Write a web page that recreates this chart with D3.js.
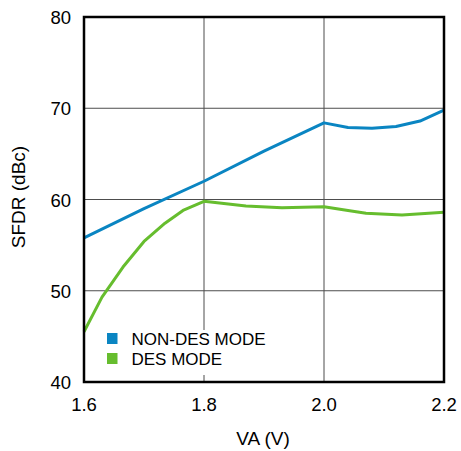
<!DOCTYPE html>
<html>
<head>
<meta charset="utf-8">
<script src="https://cdn.jsdelivr.net/npm/d3@7"></script>
<style>
  body { margin: 0; background: #fff; }
  text { font-family: "Liberation Sans", Arial, sans-serif; fill: #000; }
</style>
</head>
<body>
<div id="chart"></div>
<script>
// SFDR vs VA
var w = 461, h = 451;

var xTicks = [1.6, 1.8, 2.0, 2.2];
var yTicks = [40, 50, 60, 70, 80];

var nonDesVA   = [1.6, 1.7, 1.8, 1.9, 2.0, 2.04, 2.08, 2.12, 2.16, 2.2];
var nonDesSFDR = [55.8, 59.0, 62.0, 65.3, 68.4, 67.9, 67.8, 68.0, 68.6, 69.8];

var desVA   = [1.6, 1.63, 1.665, 1.7, 1.735, 1.765, 1.8, 1.87, 1.93, 2.0, 2.04, 2.07, 2.13, 2.2];
var desSFDR = [45.5, 49.3, 52.6, 55.4, 57.4, 58.8, 59.8, 59.3, 59.1, 59.2, 58.8, 58.5, 58.3, 58.6];

var seriesNames = ["NON-DES MODE", "DES MODE"];
var colors = ["#0a85c2", "#66bd2e"];

var pL = 84, pR = 444, pT = 17, pB = 382;

var x = d3.scaleLinear().domain([1.6, 2.2]).range([pL, pR]);
var y = d3.scaleLinear().domain([40, 80]).range([pB, pT]);

var svg = d3.select("#chart").append("svg")
  .attr("width", w).attr("height", h);

// grid
svg.selectAll("line.vgrid").data(xTicks.slice(1, -1)).enter().append("line")
  .attr("x1", function(d) { return x(d); }).attr("x2", function(d) { return x(d); })
  .attr("y1", pT).attr("y2", pB)
  .attr("stroke", "#4d4d4d").attr("stroke-width", 1);
svg.selectAll("line.hgrid").data(yTicks.slice(1, -1)).enter().append("line")
  .attr("y1", function(d) { return y(d); }).attr("y2", function(d) { return y(d); })
  .attr("x1", pL).attr("x2", pR)
  .attr("stroke", "#4d4d4d").attr("stroke-width", 1);

// lines
var line = d3.line()
  .x(function(d) { return x(d[0]); })
  .y(function(d) { return y(d[1]); });

var series = [d3.zip(nonDesVA, nonDesSFDR), d3.zip(desVA, desSFDR)];

svg.selectAll("path.series").data(series).enter().append("path")
  .attr("d", line)
  .attr("fill", "none")
  .attr("stroke", function(d, i) { return colors[i]; })
  .attr("stroke-width", 3)
  .attr("stroke-linejoin", "round");

// legend (white box hides grid)
var lg = svg.append("g").attr("transform", "translate(100,330)");
lg.append("rect").attr("width", 178).attr("height", 45).attr("fill", "#fff");
seriesNames.forEach(function(name, i) {
  lg.append("rect").attr("x", 7).attr("y", 3 + i * 20).attr("width", 10.5).attr("height", 11)
    .attr("fill", colors[i]);
  lg.append("text").attr("x", 31.5).attr("y", 15 + i * 19.5)
    .attr("font-size", 17).text(name);
});

// frame
svg.append("rect").attr("x", pL).attr("y", pT)
  .attr("width", pR - pL).attr("height", pB - pT)
  .attr("fill", "none").attr("stroke", "#000").attr("stroke-width", 2.5);

// tick labels
svg.selectAll("text.xt").data(xTicks).enter().append("text")
  .attr("x", function(d) { return x(d); }).attr("y", 411)
  .attr("text-anchor", "middle").attr("font-size", 18.5)
  .text(function(d) { return d.toFixed(1); });
svg.selectAll("text.yt").data(yTicks).enter().append("text")
  .attr("x", 71).attr("y", function(d) { return y(d) + 7; })
  .attr("text-anchor", "end").attr("font-size", 18.5)
  .text(function(d) { return d; });

// axis titles
svg.append("text").attr("x", 263).attr("y", 445)
  .attr("text-anchor", "middle").attr("font-size", 19).text("VA (V)");
svg.append("text").attr("transform", "translate(25,197) rotate(-90)")
  .attr("text-anchor", "middle").attr("font-size", 19).text("SFDR (dBc)");
</script>
</body>
</html>
